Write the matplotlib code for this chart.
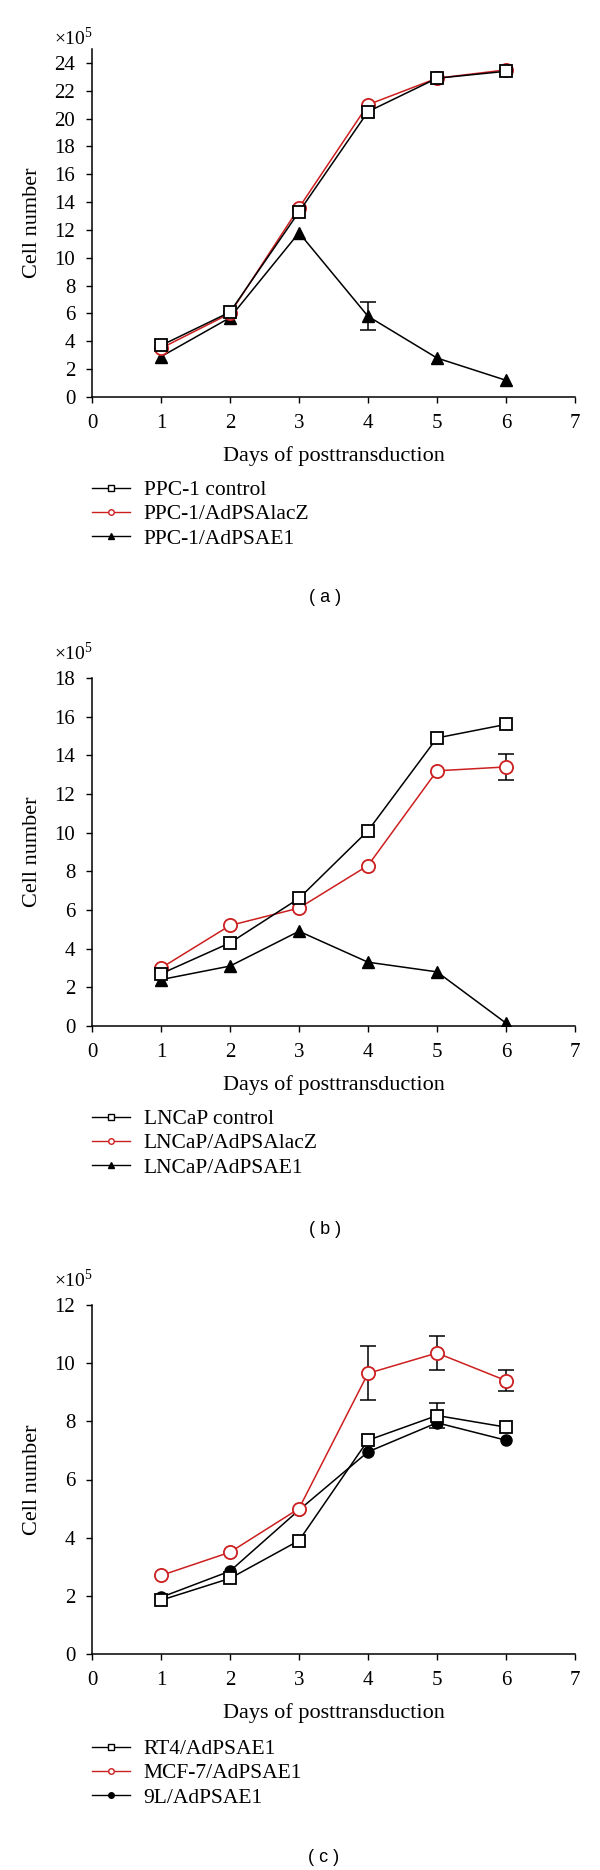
import matplotlib
matplotlib.use('Agg')
import matplotlib.pyplot as plt
from matplotlib.lines import Line2D
import numpy as np

plt.rcParams['font.family'] = ['Liberation Serif', 'DejaVu Serif']
plt.rcParams['mathtext.fontset'] = 'custom'
plt.rcParams['mathtext.rm'] = 'Liberation Serif'

RED = '#cc1f1f'

days = [1, 2, 3, 4, 5, 6]
xticks = [0, 1, 2, 3, 4, 5, 6, 7]

# Panel (a)
a_labels = ['PPC-1 control', 'PPC-1/AdPSAlacZ', 'PPC-1/AdPSAE1']
a_control = [3.7, 6.1, 13.3, 20.5, 22.9, 23.4]
a_lacz = [3.5, 6.0, 13.6, 21.0, 22.9, 23.5]
a_e1 = [2.9, 5.7, 11.8, 5.8, 2.8, 1.2]
a_e1_err = [0, 0, 0, 1.0, 0, 0]
a_yticks = list(range(0, 25, 2))

# Panel (b)
b_labels = ['LNCaP control', 'LNCaP/AdPSAlacZ', 'LNCaP/AdPSAE1']
b_control = [2.7, 4.3, 6.6, 10.1, 14.9, 15.6]
b_lacz = [3.0, 5.2, 6.1, 8.3, 13.2, 13.4]
b_lacz_err = [0, 0, 0, 0, 0, 0.67]
b_e1 = [2.4, 3.1, 4.9, 3.3, 2.8, 0.15]
b_yticks = list(range(0, 19, 2))

# Panel (c)
c_labels = ['RT4/AdPSAE1', 'MCF-7/AdPSAE1', '9L/AdPSAE1']
c_rt4 = [1.85, 2.6, 3.9, 7.35, 8.2, 7.8]
c_rt4_err = [0, 0, 0, 0, 0.42, 0]
c_mcf7 = [2.7, 3.5, 5.0, 9.65, 10.35, 9.4]
c_mcf7_err = [0, 0, 0, 0.93, 0.6, 0.36]
c_9l = [1.95, 2.85, 4.95, 6.95, 7.95, 7.35]
c_yticks = list(range(0, 13, 2))

FS_TICK = 15
FS_LAB = 16
FS_LEG = 15.5
LW = 1.1
MS = 9

fig = plt.figure(figsize=(6, 18.7), dpi=100)
H = 1870.0
W = 600.0


def make_ax(top_px, bottom_px):
    ax = fig.add_axes([92 / W, 1 - bottom_px / H, 483 / W, (bottom_px - top_px) / H])
    for s in ['top', 'right']:
        ax.spines[s].set_visible(False)
    for s in ['left', 'bottom']:
        ax.spines[s].set_linewidth(1.1)
    ax.tick_params(direction='out', length=4.5, width=1.0, labelsize=FS_TICK)
    ax.tick_params(axis='y', pad=7.5)
    ax.tick_params(axis='x', pad=8)
    ax.set_xlim(0, 7)
    ax.set_xticks(xticks)
    ax.set_xlabel('Days of posttransduction', fontsize=FS_LAB, labelpad=9)
    ax.set_ylabel('Cell number', fontsize=FS_LAB, labelpad=9)
    return ax


def err(ax, x, y, e):
    idx = [i for i, v in enumerate(e) if v > 0]
    ax.errorbar([x[i] for i in idx], [y[i] for i in idx], yerr=[e[i] for i in idx],
                fmt='none', ecolor='black', elinewidth=1.1, capsize=5.5, capthick=1.1, zorder=1)


def sq(ax, y):
    ax.plot(days, y, color='black', lw=LW, marker='s', ms=MS, mfc='white', mec='black', mew=1.3, zorder=5)


def circ_red(ax, y, z=4):
    ax.plot(days, y, color=RED, lw=LW, marker='o', ms=MS + 0.5, mfc='white', mec=RED, mew=1.3, zorder=z)


def tri(ax, y):
    ax.plot(days, y, color='black', lw=LW, marker='^', ms=MS, mfc='black', mec='black', zorder=3)


def dot(ax, y):
    ax.plot(days, y, color='black', lw=LW, marker='o', ms=8, mfc='black', mec='black', zorder=3)


def sci(ax, ytop):
    ax.annotate(r'$\times$10$^5$', xy=(0, ytop), xycoords=('axes fraction', 'data'),
                xytext=(-38, 18), textcoords='offset pixels', ha='left', va='baseline', fontsize=14)


def legend(handles, labels, top_px):
    fig.legend(handles, labels, loc='upper left', bbox_to_anchor=(92 / W, 1 - top_px / H),
               frameon=False, fontsize=FS_LEG, handlelength=1.75, handletextpad=0.65,
               labelspacing=0.2, borderpad=0, borderaxespad=0)


def hnd(color, marker, mfc):
    return Line2D([0], [0], color=color, lw=1.0, marker=marker, ms=4, mfc=mfc, mec=color, mew=1.0)


# (a)
ax = make_ax(49, 397)
ax.set_ylim(0, 25)
ax.set_yticks(a_yticks)
err(ax, days, a_e1, a_e1_err)
tri(ax, a_e1)
circ_red(ax, a_lacz)
sq(ax, a_control)
sci(ax, 24)
legend([hnd('black', 's', 'white'), hnd(RED, 'o', 'white'), hnd('black', '^', 'black')], a_labels, 480)
fig.text(325 / W, 1 - 598 / H, '( a )', ha='center', va='center', fontsize=13, family='Liberation Sans')

# (b)
ax = make_ax(678, 1026)
ax.set_ylim(0, 18)
ax.set_yticks(b_yticks)
err(ax, days, b_lacz, b_lacz_err)
tri(ax, b_e1)
circ_red(ax, b_lacz)
sq(ax, b_control)
sci(ax, 18)
legend([hnd('black', 's', 'white'), hnd(RED, 'o', 'white'), hnd('black', '^', 'black')], b_labels, 1109)
fig.text(325 / W, 1 - 1230 / H, '( b )', ha='center', va='center', fontsize=13, family='Liberation Sans')

# (c)
ax = make_ax(1305, 1654)
ax.set_ylim(0, 12)
ax.set_yticks(c_yticks)
err(ax, days, c_rt4, c_rt4_err)
err(ax, days, c_mcf7, c_mcf7_err)
dot(ax, c_9l)
sq(ax, c_rt4)
circ_red(ax, c_mcf7, z=6)
sci(ax, 12)
legend([hnd('black', 's', 'white'), hnd(RED, 'o', 'white'), hnd('black', 'o', 'black')], c_labels, 1739)
fig.text(324 / W, 1 - 1857 / H, '( c )', ha='center', va='center', fontsize=13, family='Liberation Sans')

fig.savefig('out.png', dpi=100)
